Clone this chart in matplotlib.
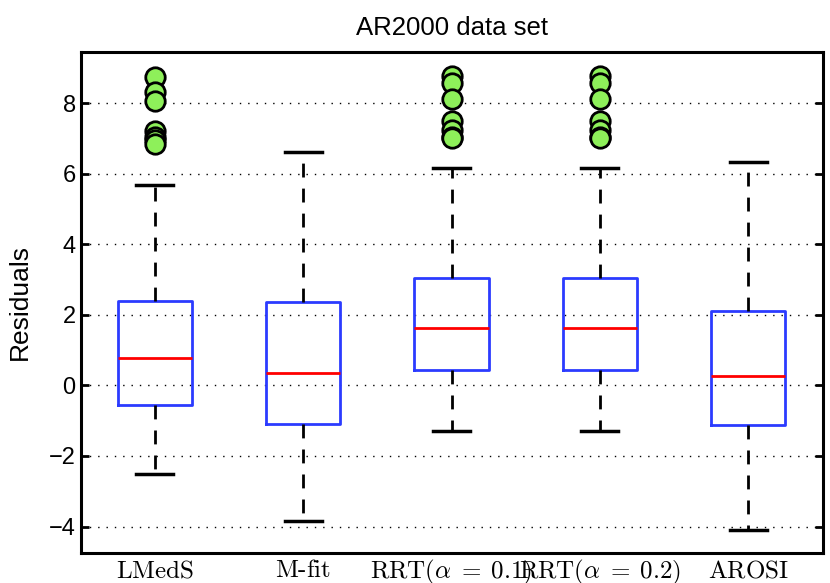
import numpy as np
import matplotlib.pyplot as plt

plt.rcParams['font.family'] = ['Liberation Sans', 'DejaVu Sans']
plt.rcParams['mathtext.fontset'] = 'cm'

# Data
methods = [r'$\mathrm{LMedS}$', r'$\mathrm{M\text{-}fit}$',
           r'$\mathrm{RRT}(\alpha\;=\;0.1)$', r'$\mathrm{RRT}(\alpha\;=\;0.2)$',
           r'$\mathrm{AROSI}$']
whislo = [-2.52, -3.84, -1.28, -1.28, -4.11]
q1 = [-0.55, -1.08, 0.44, 0.44, -1.11]
med = [0.79, 0.36, 1.63, 1.63, 0.28]
q3 = [2.40, 2.37, 3.05, 3.05, 2.12]
whishi = [5.69, 6.62, 6.15, 6.15, 6.33]
fliers = [
    [8.73, 8.32, 8.05, 7.22, 7.05, 6.95, 6.85],
    [],
    [8.78, 8.57, 8.12, 7.48, 7.25, 7.05, 7.0],
    [8.78, 8.57, 8.12, 7.48, 7.25, 7.05, 7.0],
    [],
]

stats = []
for i in range(len(methods)):
    stats.append(dict(med=med[i], q1=q1[i], q3=q3[i], whislo=whislo[i],
                      whishi=whishi[i], fliers=fliers[i]))

fig, ax = plt.subplots(figsize=(8.3, 5.83), dpi=100)
fig.subplots_adjust(left=0.097, right=0.991, top=0.911, bottom=0.052)

ax.bxp(stats, positions=range(1, 6), widths=0.5, showfliers=True,
       boxprops=dict(color='#2b3bff', linewidth=2),
       medianprops=dict(color='#ff0000', linewidth=2),
       whiskerprops=dict(color='black', linewidth=2, linestyle=(0, (5, 4))),
       capprops=dict(color='black', linewidth=2.5),
       capwidths=0.25,
       flierprops=dict(marker='o', markerfacecolor='#8ef05a',
                       markeredgecolor='black', markersize=14,
                       markeredgewidth=2, linestyle='none'))

ax.set_xlim(0.5, 5.5)
ax.set_ylim(-4.74, 9.45)
ax.set_yticks([-4, -2, 0, 2, 4, 6, 8])
ax.set_xticks(range(1, 6))
ax.set_xticklabels(methods, fontsize=18)
ax.tick_params(axis='y', direction='in', length=6, width=2,
               labelsize=17, right=True)
ax.tick_params(axis='x', length=0, pad=4)
ax.yaxis.grid(True, linestyle=(0, (1, 5)), color='black', linewidth=1)
ax.set_axisbelow(True)
for s in ax.spines.values():
    s.set_linewidth(2.2)

ax.set_ylabel('Residuals', fontsize=19)
ax.yaxis.set_label_coords(-0.065, 0.5)
ax.set_title('AR2000 data set', fontsize=18.5, pad=12)

plt.savefig('out.png')
